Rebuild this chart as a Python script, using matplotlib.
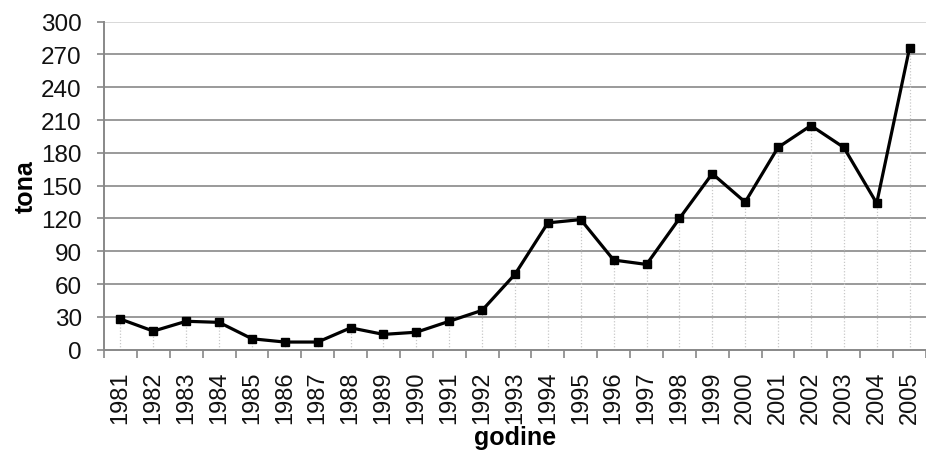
import numpy as np
import matplotlib.pyplot as plt

plt.rcParams['font.family'] = ['Liberation Sans', 'DejaVu Sans']

years = [str(y) for y in range(1981, 2006)]
tona = [28, 17, 26, 25, 10, 7, 7, 20, 14, 16, 26, 36, 69, 116, 119,
        82, 78, 120, 161, 135, 185, 205, 185, 134, 276]
yticks = [0, 30, 60, 90, 120, 150, 180, 210, 240, 270, 300]

fig = plt.figure(figsize=(9.26, 4.56), dpi=100)
ax = fig.add_axes([104 / 926, 1 - 350.7 / 456, 1 - 104 / 926, (350.7 - 22.7) / 456])

x = np.arange(len(years))

# horizontal grid
for v in yticks[1:]:
    ax.axhline(v, color='#9a9a9a' if v < 300 else '#d8d8d8', lw=1.4, zorder=1)

# dotted drop lines
ax.vlines(x, 0, tona, colors='#c8c8c8', linestyles=(0, (1, 1.5)), lw=0.9, zorder=2)

ax.plot(x, tona, color='black', lw=2.3, marker='s', markersize=5.5, zorder=3)

ax.set_xlim(-0.5, len(years) - 0.5)
ax.set_ylim(0, 300)
ax.set_yticks(yticks)
ax.tick_params(axis='y', labelsize=17.5, length=5, color='#888888', width=1.2, pad=11,
               labelcolor='#111111')

ax.set_xticks(x)
ax.set_xticklabels(years, rotation=90, fontsize=17, color='#111111')
ax.set_xticks(np.arange(-0.5, len(years), 1), minor=True)
ax.tick_params(axis='x', which='major', length=0, pad=15)
ax.tick_params(axis='x', which='minor', length=6, color='#888888', width=1.2)

for s in ['top', 'right']:
    ax.spines[s].set_visible(False)
for s in ['left', 'bottom']:
    ax.spines[s].set_color('#888888')
    ax.spines[s].set_linewidth(1.4)

ax.set_ylabel('tona', fontsize=18, fontweight='bold', labelpad=2)
ax.set_xlabel('godine', fontsize=18, fontweight='bold', labelpad=1)

fig.savefig('out.png', dpi=100)
